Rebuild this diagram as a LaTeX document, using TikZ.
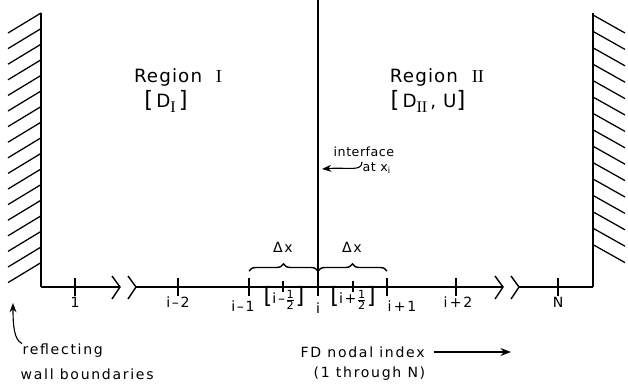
\documentclass[tikz,border=0pt]{standalone}
\usepackage{fontspec}
\setmainfont{DejaVu Sans}[LetterSpace=12]
\newfontfamily\romfont{Liberation Serif}
\usetikzlibrary{arrows.meta,decorations.pathreplacing}
\newcommand\rn[1]{{\romfont #1}}
\newcommand\rsub[1]{\raisebox{-0.5ex}{\fontsize{11.5}{11.5}\selectfont\rn{#1}}}
\newcommand\bigbr[1]{{\fontsize{16}{16}\selectfont #1}}
\newcommand\halfidx[1]{\bigbr{[}i#1$\frac{\mbox{\footnotesize 1}}{\mbox{\footnotesize 2}}$\bigbr{]}}

\begin{document}
\begin{tikzpicture}[x=0.025cm,y=-0.025cm,line width=1pt,>=Stealth]
\tikzset{
  hatch/.style={line width=0.9pt},
  lbl/.style={inner sep=0pt,font=\fontsize{10}{12}\selectfont},
  sml/.style={inner sep=0pt,font=\fontsize{9}{11}\selectfont\addfontfeature{LetterSpace=4}},
  big/.style={inner sep=0pt,font=\fontsize{13}{15}\selectfont\addfontfeature{LetterSpace=6}},
  brc/.style={decorate,decoration={brace,amplitude=5pt}},
  brk/.style={line width=1pt,line join=miter}
}
\useasboundingbox (0,0) rectangle (628,383);
% ---------- reflecting walls ----------
\coordinate (lwtop) at (41,13);
\coordinate (lw) at (41,287);
\coordinate (rwtop) at (593,13);
\coordinate (rw) at (593,287);
\draw (lwtop) -- (lw);
\draw (rwtop) -- (rw);
\foreach \y in {13,28.6,...,263}{ \draw[hatch] (41,\y) -- ++(-33,20); }
\foreach \y in {15,31.4,...,246}{ \draw[hatch] (593,\y) -- ++(32,18); }
% ---------- nodal axis with breaks ----------
\coordinate (b1) at (120,287);
\coordinate (b2) at (136,287);
\coordinate (b3) at (503,287);
\coordinate (b4) at (519,287);
\draw (lw) -- (b1);
\draw[brk] (112,276) -- (b1) -- (112,299);
\draw[brk] (128,276) -- (b2) -- (128,299);
\draw (b2) -- (b3);
\draw[brk] (495,276) -- (b3) -- (495,299);
\draw[brk] (511,276) -- (b4) -- (511,299);
\draw (b4) -- (rw);
\foreach \x/\n in {75/n1,178/nm2,249/nm1,318/ni,387/np1,456/np2,558/nN}{
  \coordinate (\n) at (\x,287);
  \draw (\x,278) -- (\x,296);
}
\foreach \x in {283,353}{ \draw (\x,281) -- (\x,292); }
% ---------- interface ----------
\coordinate (itop) at (318,0);
\coordinate (ibot) at (318,292);
\draw (itop) -- (ibot);
\node[sml,anchor=west] (intf) at (333,152) {interface};
\node[sml,anchor=west] (atx) at (362,168) {at x\textsubscript{i}};
\draw[->,line width=0.8pt] (atx.north west) .. controls (362,172) and (348,167) .. (322,169);
% ---------- regions ----------
\node[big] (reg1) at (178,77) {Region\ \ \rn{I}};
\node[big] (dif1) at (166,101) {\bigbr{[}\,D\rsub{I}\,\bigbr{]}};
\node[big] (reg2) at (437,77) {Region\ \ \rn{II}};
\node[big] (dif2) at (428,101) {\bigbr{[}\,D\rsub{II}\,, U\bigbr{]}};
% ---------- cell widths ----------
\draw[brc] (249,271) -- (318,271);
\draw[brc] (318,271) -- (387,271);
\node[lbl] (dx1) at (283,247) {Δx};
\node[lbl] (dx2) at (352,247) {Δx};
% ---------- node labels ----------
\node[lbl] (l1) at (75,302) {1};
\node[lbl] (lm2) at (178,302) {i--2};
\node[lbl] (lm1) at (243,306) {i--1};
\node[lbl] (lhm) at (284,298) {\halfidx{--}};
\node[lbl] (li) at (318,308) {i};
\node[lbl] (lhp) at (353,298) {\halfidx{+}};
\node[lbl] (lp1) at (402,306) {i\,+1};
\node[lbl] (lp2) at (458,302) {i\,+2};
\node[lbl] (lN) at (558,302) {N};
% ---------- notes ----------
\node[lbl,anchor=west] (refl) at (22,351) {reflecting};
\node[lbl,anchor=west] (wall) at (20,374) {wall boundaries};
\draw[->,line width=0.8pt] (refl.north west) .. controls (14,340) and (13,325) .. (13,303);
\node[lbl,anchor=west] (fd) at (300,352) {FD nodal index};
\coordinate (fdend) at (511,352);
\draw[->] ([xshift=6pt]fd.east) -- (fdend);
\node[lbl,anchor=west] (thr) at (313,374) {(1 through N)};
\end{tikzpicture}
\end{document}
